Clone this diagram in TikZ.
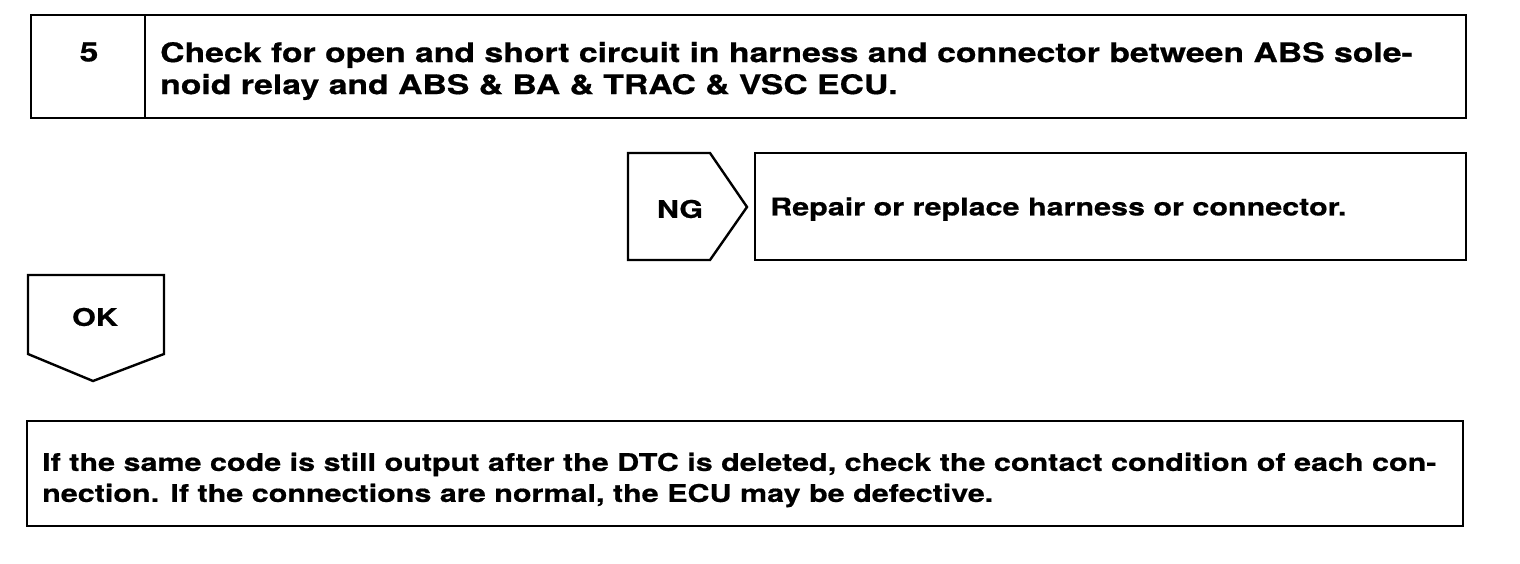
\documentclass[tikz,border=0pt]{standalone}
\usepackage{fontspec}
\newfontfamily\boxfont{texgyreheros-bold}[Extension=.otf, FakeStretch=1.25, FakeBold=0.6]
\usetikzlibrary{positioning}

\tikzset{
  txt/.style={font=\boxfont\fontsize{24.4}{31}\selectfont, inner sep=0pt},
  bigtxt/.style={font=\boxfont\fontsize{27}{32}\selectfont, inner sep=0pt},
  frame/.style={line width=2.4pt, line join=miter}
}

\begin{document}
\begin{tikzpicture}[x=1pt,y=-1pt]
            \useasboundingbox (0,0) rectangle (1520,564);
            % step 5
            \draw[frame] (31,15) rectangle (1466,118);
            \draw[frame] (145,15)--(145,118);
            \node[bigtxt] at (89,52) (num) {5};
            \node[bigtxt, anchor=west, align=left] at (160,71) (check) {Check for open and short circuit in harness and connector between ABS sole-\\noid relay and ABS \& BA \& TRAC \& VSC ECU.};

            % NG branch
            \draw[frame] (628,153)--(710,153)--(747,207)--(710,260)--(628,260)--cycle;
            \node[txt] at (680,209) (ng) {NG};
            \draw[frame] (755,153) rectangle (1466,260);
            \node[txt, anchor=west] at (770,209) (repair) {Repair or replace harness or connector.};

            % OK branch
            \draw[frame] (28,275)--(164,275)--(164,354)--(93,381)--(28,354)--cycle;
            \node[txt] at (95,317) (ok) {OK};
            \draw[frame] (27,421) rectangle (1463,526);
            \node[txt, anchor=west, align=left] at (42,480) (note) {If the same code is still output after the DTC is deleted, check the contact condition of each con-\\nection. If the connections are normal, the ECU may be defective.};
        \end{tikzpicture}
\end{document}
